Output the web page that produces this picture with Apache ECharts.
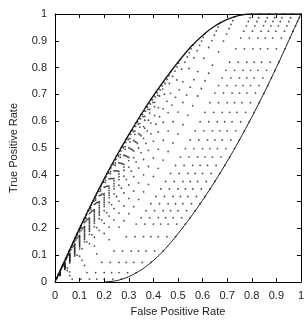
<!DOCTYPE html>
<html>
<head>
<meta charset="utf-8">
<script src="https://cdn.jsdelivr.net/npm/echarts@6/dist/echarts.min.js"></script>
<style>html,body{margin:0;padding:0;background:#fff}#c{width:307px;height:322px}</style>
</head>
<body>
<div id="c"></div>
<script>
// ---- data ----
var xTicks = [0,0.1,0.2,0.3,0.4,0.5,0.6,0.7,0.8,0.9,1];
var upperCurve = [[0,0],[0.05,0.1],[0.1,0.2],[0.15,0.295],[0.2,0.385],[0.25,0.47],[0.3,0.55],[0.35,0.625],[0.4,0.695],[0.45,0.76],[0.5,0.82],[0.55,0.875],[0.6,0.92],[0.65,0.955],[0.7,0.98],[0.75,0.995],[0.8,1],[1,1]];
var lowerCurve = [[0.2,0],[0.25,0.005],[0.3,0.02],[0.35,0.045],[0.4,0.08],[0.45,0.125],[0.5,0.18],[0.55,0.24],[0.6,0.305],[0.65,0.375],[0.7,0.45],[0.75,0.53],[0.8,0.615],[0.85,0.705],[0.9,0.8],[0.95,0.9],[1,1]];

// dot cloud, lower rows
var dotsLow = [
 [0.27,0.011],[0.235,0.011],[0.2,0.011],[0.17,0.011],[0.14,0.011],[0.105,0.011],[0.07,0.011],
 [0.33,0.035],[0.295,0.035],[0.26,0.035],[0.23,0.035],[0.2,0.035],[0.165,0.035],[0.13,0.035],[0.06,0.024],
 [0.39,0.073],[0.355,0.073],[0.32,0.073],[0.29,0.073],[0.26,0.073],[0.225,0.073],[0.19,0.073],[0.12,0.062],[0.06,0.038],
 [0.44,0.116],[0.405,0.116],[0.37,0.116],[0.34,0.116],[0.31,0.116],[0.275,0.116],[0.24,0.116],[0.17,0.105],[0.11,0.081],[0.05,0.043],
 [0.49,0.169],[0.455,0.169],[0.42,0.169],[0.39,0.169],[0.36,0.169],[0.325,0.169],[0.29,0.169],[0.22,0.158],[0.16,0.134],[0.1,0.096],[0.05,0.053],
 [0.53,0.216],[0.495,0.216],[0.46,0.216],[0.43,0.216],[0.4,0.216],[0.365,0.216],[0.33,0.216],[0.26,0.205],[0.2,0.181],[0.14,0.143],[0.09,0.1],[0.04,0.047],
 [0.57,0.266],[0.535,0.266],[0.5,0.266],[0.47,0.266],[0.44,0.266],[0.405,0.266],[0.37,0.266],[0.3,0.255],[0.24,0.231],[0.18,0.193],[0.13,0.15],[0.08,0.097],[0.04,0.05],
 [0.61,0.319],[0.575,0.319],[0.54,0.319],[0.51,0.319],[0.48,0.319],[0.445,0.319],[0.41,0.319],[0.34,0.308],[0.28,0.284],[0.22,0.246],[0.17,0.203],[0.12,0.15],[0.08,0.103],[0.04,0.053]
];
// dot cloud, middle rows
var dotsMid = [
 [0.65,0.375],[0.615,0.375],[0.58,0.375],[0.55,0.375],[0.52,0.375],[0.485,0.375],[0.45,0.375],[0.38,0.364],[0.32,0.34],[0.26,0.302],[0.21,0.259],[0.16,0.206],[0.12,0.159],[0.08,0.109],[0.04,0.056],
 [0.69,0.435],[0.655,0.435],[0.62,0.435],[0.59,0.435],[0.56,0.435],[0.525,0.435],[0.49,0.435],[0.42,0.424],[0.36,0.4],[0.3,0.362],[0.25,0.319],[0.2,0.266],[0.16,0.219],[0.12,0.169],[0.08,0.116],[0.04,0.06],
 [0.73,0.498],[0.695,0.498],[0.66,0.498],[0.63,0.498],[0.6,0.498],[0.565,0.498],[0.53,0.498],[0.46,0.487],[0.4,0.463],[0.34,0.425],[0.29,0.382],[0.24,0.329],[0.2,0.282],[0.16,0.232],[0.12,0.179],[0.08,0.123],[0.04,0.063],
 [0.77,0.564],[0.735,0.564],[0.7,0.564],[0.67,0.564],[0.64,0.564],[0.605,0.564],[0.57,0.564],[0.5,0.553],[0.44,0.529],[0.38,0.491],[0.33,0.448],[0.28,0.395],[0.24,0.348],[0.2,0.298],[0.16,0.245],[0.12,0.189],[0.08,0.129],[0.04,0.066],
 [0.81,0.633],[0.775,0.633],[0.74,0.633],[0.71,0.633],[0.68,0.633],[0.645,0.633],[0.61,0.633],[0.54,0.622],[0.48,0.598],[0.42,0.56],[0.37,0.517],[0.32,0.464],[0.28,0.417],[0.24,0.367],[0.2,0.314],[0.16,0.258],[0.12,0.198],[0.08,0.135],[0.04,0.069],
 [0.85,0.705],[0.815,0.705],[0.78,0.705],[0.75,0.705],[0.72,0.705],[0.685,0.705],[0.65,0.705],[0.58,0.694],[0.52,0.67],[0.46,0.632],[0.41,0.589],[0.36,0.536],[0.32,0.489],[0.28,0.439],[0.24,0.386],[0.2,0.33],[0.16,0.27],[0.12,0.207],[0.08,0.141],[0.04,0.072],
 [0.88,0.762],[0.845,0.762],[0.81,0.762],[0.78,0.762],[0.75,0.762],[0.715,0.762],[0.68,0.762],[0.61,0.751],[0.55,0.727],[0.49,0.689],[0.44,0.646],[0.39,0.593],[0.35,0.546],[0.31,0.496],[0.27,0.443],[0.23,0.387],[0.19,0.327],[0.15,0.264],[0.11,0.198],[0.07,0.129],[0.03,0.057]
];
// dot cloud, upper rows
var dotsHigh = [
 [0.91,0.82],[0.875,0.82],[0.84,0.82],[0.81,0.82],[0.78,0.82],[0.745,0.82],[0.71,0.82],[0.64,0.809],[0.58,0.785],[0.52,0.747],[0.47,0.704],[0.42,0.651],[0.38,0.604],[0.34,0.554],[0.3,0.501],[0.26,0.445],[0.22,0.385],[0.18,0.322],[0.14,0.256],[0.1,0.187],[0.06,0.115],[0.03,0.058],
 [0.935,0.87],[0.9,0.87],[0.865,0.87],[0.835,0.87],[0.805,0.87],[0.77,0.87],[0.735,0.87],[0.665,0.859],[0.605,0.835],[0.545,0.797],[0.495,0.754],[0.445,0.701],[0.405,0.654],[0.365,0.604],[0.325,0.551],[0.285,0.495],[0.245,0.435],[0.205,0.372],[0.165,0.306],[0.125,0.237],[0.085,0.165],[0.055,0.108],[0.025,0.05],
 [0.955,0.91],[0.92,0.91],[0.885,0.91],[0.855,0.91],[0.825,0.91],[0.79,0.91],[0.755,0.91],[0.685,0.899],[0.625,0.875],[0.565,0.837],[0.515,0.794],[0.465,0.741],[0.425,0.694],[0.385,0.644],[0.345,0.591],[0.305,0.535],[0.265,0.475],[0.225,0.412],[0.185,0.346],[0.145,0.277],[0.105,0.205],[0.075,0.148],[0.045,0.09],[0.02,0.04],
 [0.968,0.936],[0.933,0.936],[0.898,0.936],[0.868,0.936],[0.838,0.936],[0.803,0.936],[0.768,0.936],[0.698,0.925],[0.638,0.901],[0.578,0.863],[0.528,0.82],[0.478,0.767],[0.438,0.72],[0.398,0.67],[0.358,0.617],[0.318,0.561],[0.278,0.501],[0.238,0.438],[0.198,0.372],[0.158,0.303],[0.118,0.231],[0.088,0.174],[0.058,0.116],[0.033,0.066],[0.013,0.026],
 [0.978,0.956],[0.943,0.956],[0.908,0.956],[0.878,0.956],[0.848,0.956],[0.813,0.956],[0.778,0.956],[0.708,0.945],[0.648,0.921],[0.588,0.883],[0.538,0.84],[0.488,0.787],[0.448,0.74],[0.408,0.69],[0.368,0.637],[0.328,0.581],[0.288,0.521],[0.248,0.458],[0.208,0.392],[0.168,0.323],[0.128,0.251],[0.098,0.194],[0.068,0.136],[0.043,0.086],[0.023,0.046],[0.01,0.02],
 [0.986,0.972],[0.951,0.972],[0.916,0.972],[0.886,0.972],[0.856,0.972],[0.821,0.972],[0.786,0.972],[0.716,0.961],[0.656,0.937],[0.596,0.899],[0.546,0.856],[0.496,0.803],[0.456,0.756],[0.416,0.706],[0.376,0.653],[0.336,0.597],[0.296,0.537],[0.256,0.474],[0.216,0.408],[0.176,0.339],[0.136,0.267],[0.106,0.21],[0.076,0.152],[0.051,0.102],[0.031,0.062],[0.018,0.036],[0.008,0.016],
 [0.993,0.986],[0.958,0.986],[0.923,0.986],[0.893,0.986],[0.863,0.986],[0.828,0.986],[0.793,0.986],[0.723,0.975],[0.663,0.951],[0.603,0.913],[0.553,0.87],[0.503,0.817],[0.463,0.77],[0.423,0.72],[0.383,0.667],[0.343,0.611],[0.303,0.551],[0.263,0.488],[0.223,0.422],[0.183,0.353],[0.143,0.281],[0.113,0.224],[0.083,0.166],[0.058,0.116],[0.038,0.076],[0.025,0.05],[0.015,0.03],[0.007,0.014],
 [1,1],[0.965,1],[0.93,1],[0.9,1],[0.87,1],[0.835,1],[0.8,1],[0.73,0.989],[0.67,0.965],[0.61,0.927],[0.56,0.884],[0.51,0.831],[0.47,0.784],[0.43,0.734],[0.39,0.681],[0.35,0.625],[0.31,0.565],[0.27,0.502],[0.23,0.436],[0.19,0.367],[0.15,0.295],[0.12,0.238],[0.09,0.18],[0.065,0.13],[0.045,0.09],[0.032,0.064],[0.022,0.044],[0.014,0.028],[0.007,0.014]
];
// dot cloud, in-between rows
var dotsExtra = [
 [0.55,0.24],[0.515,0.24],[0.48,0.24],[0.45,0.24],[0.42,0.24],[0.385,0.24],[0.35,0.24],[0.28,0.229],[0.22,0.205],[0.16,0.167],[0.11,0.124],[0.06,0.071],[0.02,0.024],
 [0.02,0.026],
 [0.59,0.292],[0.555,0.292],[0.52,0.292],[0.49,0.292],[0.46,0.292],[0.425,0.292],[0.39,0.292],[0.32,0.281],[0.26,0.257],[0.2,0.219],[0.15,0.176],[0.1,0.123],[0.06,0.076],[0.04,0.052],[0.02,0.026],
 [0.06,0.079],[0.02,0.027],
 [0.63,0.347],[0.595,0.347],[0.56,0.347],[0.53,0.347],[0.5,0.347],[0.465,0.347],[0.43,0.347],[0.36,0.336],[0.3,0.312],[0.24,0.274],[0.19,0.231],[0.14,0.178],[0.1,0.131],[0.08,0.107],[0.06,0.081],[0.04,0.055],[0.02,0.028],
 [0.1,0.135],[0.06,0.083],[0.02,0.028],
 [0.67,0.405],[0.635,0.405],[0.6,0.405],[0.57,0.405],[0.54,0.405],[0.505,0.405],[0.47,0.405],[0.4,0.394],[0.34,0.37],[0.28,0.332],[0.23,0.289],[0.18,0.236],[0.14,0.189],[0.12,0.165],[0.1,0.139],[0.08,0.113],[0.06,0.086],[0.04,0.058],[0.02,0.03],
 [0.14,0.195],[0.1,0.143],[0.06,0.088],[0.02,0.03],
 [0.71,0.466],[0.675,0.466],[0.64,0.466],[0.61,0.466],[0.58,0.466],[0.545,0.466],[0.51,0.466],[0.44,0.455],[0.38,0.431],[0.32,0.393],[0.27,0.35],[0.22,0.297],[0.18,0.25],[0.16,0.226],[0.14,0.2],[0.12,0.174],[0.1,0.147],[0.08,0.119],[0.06,0.091],[0.04,0.061],[0.02,0.031],
 [0.18,0.258],[0.14,0.206],[0.1,0.151],[0.06,0.093],[0.02,0.032],
 [0.75,0.53],[0.715,0.53],[0.68,0.53],[0.65,0.53],[0.62,0.53],[0.585,0.53],[0.55,0.53],[0.48,0.519],[0.42,0.495],[0.36,0.457],[0.31,0.414],[0.26,0.361],[0.22,0.314],[0.2,0.29],[0.18,0.264],[0.16,0.238],[0.14,0.211],[0.12,0.183],[0.1,0.155],[0.08,0.125],[0.06,0.095],[0.04,0.064],[0.02,0.032],
 [0.22,0.324],[0.18,0.272],[0.14,0.217],[0.1,0.159],[0.06,0.098],[0.02,0.034],
 [0.79,0.598],[0.755,0.598],[0.72,0.598],[0.69,0.598],[0.66,0.598],[0.625,0.598],[0.59,0.598],[0.52,0.587],[0.46,0.563],[0.4,0.525],[0.35,0.482],[0.3,0.429],[0.26,0.382],[0.24,0.358],[0.22,0.332],[0.2,0.306],[0.18,0.279],[0.16,0.251],[0.14,0.223],[0.12,0.193],[0.1,0.163],[0.08,0.132],[0.06,0.1],[0.04,0.068],[0.02,0.034],
 [0.26,0.393],[0.22,0.341],[0.18,0.286],[0.14,0.228],[0.1,0.167],[0.06,0.103],[0.02,0.035],
 [0.83,0.669],[0.795,0.669],[0.76,0.669],[0.73,0.669],[0.7,0.669],[0.665,0.669],[0.63,0.669],[0.56,0.658],[0.5,0.634],[0.44,0.596],[0.39,0.553],[0.34,0.5],[0.3,0.453],[0.28,0.429],[0.26,0.403],[0.24,0.377],[0.22,0.35],[0.2,0.322],[0.18,0.294],[0.16,0.264],[0.14,0.234],[0.12,0.203],[0.1,0.171],[0.08,0.139],[0.06,0.105],[0.04,0.071],[0.02,0.036],
 [0.3,0.465],[0.26,0.413],[0.22,0.358],[0.18,0.3],[0.14,0.239],[0.1,0.175],[0.06,0.107],[0.02,0.036],
 [0.865,0.733],[0.83,0.733],[0.795,0.733],[0.765,0.733],[0.735,0.733],[0.7,0.733],[0.665,0.733],[0.595,0.722],[0.535,0.698],[0.475,0.66],[0.425,0.617],[0.375,0.564],[0.335,0.517],[0.315,0.493],[0.295,0.467],[0.275,0.441],[0.255,0.414],[0.235,0.386],[0.215,0.358],[0.195,0.328],[0.175,0.298],[0.155,0.267],[0.135,0.235],[0.115,0.203],[0.095,0.169],[0.075,0.135],[0.055,0.1],[0.035,0.064],[0.015,0.028],
 [0.33,0.522],[0.29,0.47],[0.25,0.415],[0.21,0.357],[0.17,0.296],[0.13,0.232],[0.09,0.164],[0.05,0.093],[0.015,0.029],
 [0.895,0.79],[0.86,0.79],[0.825,0.79],[0.795,0.79],[0.765,0.79],[0.73,0.79],[0.695,0.79],[0.625,0.779],[0.565,0.755],[0.505,0.717],[0.455,0.674],[0.405,0.621],[0.365,0.574],[0.345,0.55],[0.325,0.524],[0.305,0.498],[0.285,0.471],[0.265,0.443],[0.245,0.415],[0.225,0.385],[0.205,0.355],[0.185,0.324],[0.165,0.292],[0.145,0.26],[0.125,0.226],[0.105,0.192],[0.085,0.157],[0.065,0.121],[0.045,0.085],[0.03,0.057],[0.015,0.028],
 [0.36,0.58],[0.32,0.528],[0.28,0.473],[0.24,0.415],[0.2,0.354],[0.16,0.29],[0.12,0.222],[0.08,0.151],[0.045,0.087],[0.015,0.03],
 [0.385,0.63],[0.345,0.578],[0.305,0.523],[0.265,0.465],[0.225,0.404],[0.185,0.34],[0.145,0.272],[0.105,0.201],[0.07,0.137],[0.04,0.08],
 [0.405,0.67],[0.365,0.618],[0.325,0.563],[0.285,0.505],[0.245,0.444],[0.205,0.38],[0.165,0.312],[0.125,0.241],[0.09,0.177],[0.06,0.12],
 [0.418,0.696],[0.378,0.644],[0.338,0.589],[0.298,0.531],[0.258,0.47],[0.218,0.406],[0.178,0.338],[0.138,0.267],[0.103,0.203],[0.073,0.146],
 [0.428,0.716],[0.388,0.664],[0.348,0.609],[0.308,0.551],[0.268,0.49],[0.228,0.426],[0.188,0.358],[0.148,0.287],[0.113,0.223],[0.083,0.166],
 [0.436,0.732],[0.396,0.68],[0.356,0.625],[0.316,0.567],[0.276,0.506],[0.236,0.442],[0.196,0.374],[0.156,0.303],[0.121,0.239],[0.091,0.182],
 [0.443,0.746],[0.403,0.694],[0.363,0.639],[0.323,0.581],[0.283,0.52],[0.243,0.456],[0.203,0.388],[0.163,0.317],[0.128,0.253],[0.098,0.196],
 [0.45,0.76],[0.41,0.708],[0.37,0.653],[0.33,0.595],[0.29,0.534],[0.25,0.47],[0.21,0.402],[0.17,0.331],[0.135,0.267],[0.105,0.21]
];

// ---- chart ----
var chart = echarts.init(document.getElementById('c'), null, {renderer:'canvas'});
var font = 'Liberation Sans, Arial, sans-serif';
function axisBase(show){
  return {type:'value',min:0,max:1,interval:0.1,
    axisLine:{show:true,onZero:false,lineStyle:{color:'#000',width:1}},
    axisTick:{show:true,inside:true,length:4,lineStyle:{color:'#000'}},
    splitLine:{show:false},
    axisLabel:{show:show,color:'#222',fontFamily:font,fontSize:11,margin:8,
      formatter:function(v){return String(Math.round(v*10)/10);}}};
}
var xa = axisBase(true); xa.name='False Positive Rate'; xa.nameLocation='middle'; xa.nameGap=24;
xa.nameTextStyle={color:'#222',fontFamily:font,fontSize:11};
var xa2 = axisBase(false); xa2.position='top';
var ya = axisBase(true); ya.name='True Positive Rate'; ya.nameLocation='middle'; ya.nameGap=36;
ya.nameTextStyle={color:'#222',fontFamily:font,fontSize:11};
var ya2 = axisBase(false); ya2.position='right';

chart.setOption({
  animation:false,
  grid:{left:50,right:5,top:14,bottom:31},
  xAxis:[xa,xa2],
  yAxis:[ya,ya2],
  series:[
    {type:'scatter',data:dotsLow.concat(dotsMid,dotsHigh,dotsExtra),symbol:'circle',symbolSize:1.8,silent:true,
     itemStyle:{color:'#222'}},
    {type:'line',data:upperCurve,smooth:0.3,symbol:'none',lineStyle:{color:'#111',width:1.3}},
    {type:'line',data:lowerCurve,smooth:0.3,symbol:'none',lineStyle:{color:'#222',width:1}}
  ]
});
</script>
</body>
</html>
